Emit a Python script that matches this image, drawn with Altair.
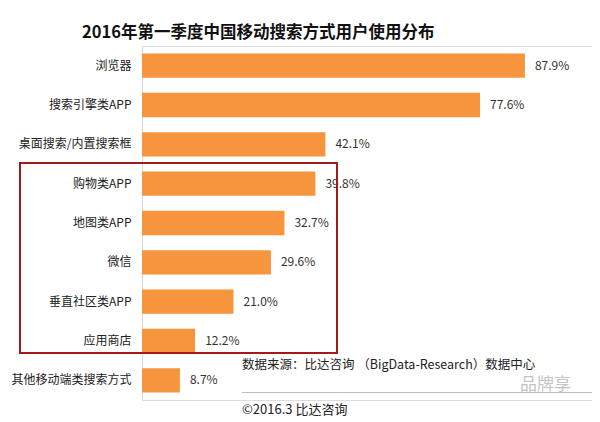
import altair as alt
import pandas as pd

categories = ["浏览器", "搜索引擎类APP", "桌面搜索/内置搜索框", "购物类APP", "地图类APP",
              "微信", "垂直社区类APP", "应用商店", "其他移动端类搜索方式"]
values = [87.9, 77.6, 42.1, 39.8, 32.7, 29.6, 21.0, 12.2, 8.7]
labels = ["87.9%", "77.6%", "42.1%", "39.8%", "32.7%", "29.6%", "21.0%", "12.2%", "8.7%"]

title_text = "2016年第一季度中国移动搜索方式用户使用分布"
source_text = "数据来源：比达咨询 （BigData-Research）数据中心"
copyright_text = "©2016.3 比达咨询"
watermark_text = "品牌享"

FONT = "Noto Sans CJK SC"
df = pd.DataFrame({"cat": categories, "val": values, "lab": labels})

y_enc = alt.Y("cat:N", sort=categories, title=None,
              scale=alt.Scale(paddingInner=0.38, paddingOuter=0.19),
              axis=alt.Axis(labelFont=FONT, labelFontSize=12, labelColor="#222",
                            ticks=False, labelPadding=11, domainColor="#d8d8d8",
                            labelLimit=200, grid=False))
x_enc = alt.X("val:Q", scale=alt.Scale(domain=[0, 103.3]), axis=None)

base = alt.Chart(df).encode(x=x_enc, y=y_enc)
bars = base.mark_bar(color="#F7953F")
vals = base.mark_text(align="left", dx=10, font=FONT, fontSize=12,
                      color="#333").encode(text="lab:N")

one = pd.DataFrame({"a": [0]})
title = alt.Chart(one).mark_text(align="left", baseline="middle", font=FONT, fontSize=16.5,
                                 fontWeight="bold", color="#111").encode(
    x=alt.value(-60), y=alt.value(-13), text=alt.value(title_text))
box = alt.Chart(one).mark_rect(fill=None, stroke="#A31A1A", strokeWidth=2).encode(
    x=alt.value(-122), x2=alt.value(195), y=alt.value(117), y2=alt.value(307))
src = alt.Chart(one).mark_text(align="left", baseline="middle", font=FONT, fontSize=12.5,
                               color="#222").encode(
    x=alt.value(100), y=alt.value(319), text=alt.value(source_text))
dots = alt.Chart(one).mark_rect(fill="#bdbdbd", stroke=None).encode(
    x=alt.value(100), x2=alt.value(450), y=alt.value(346), y2=alt.value(347))
copy = alt.Chart(one).mark_text(align="left", baseline="middle", font=FONT, fontSize=13,
                                color="#222").encode(
    x=alt.value(100), y=alt.value(364), text=alt.value(copyright_text))
wm = alt.Chart(one).mark_text(align="left", baseline="middle", font=FONT, fontSize=17,
                              color="#c4c4c4").encode(
    x=alt.value(378), y=alt.value(339), text=alt.value(watermark_text))

chart = alt.layer(bars, vals, box, title, src, dots, copy, wm).properties(
    width=450, height=354,
    autosize=alt.AutoSizeParams(type="none"),
    padding={"left": 134, "top": 38, "right": 0, "bottom": 22},
).configure_view(strokeWidth=0).configure(background="white")

chart.save("out.html", embed_options={"renderer": "svg", "actions": False})
